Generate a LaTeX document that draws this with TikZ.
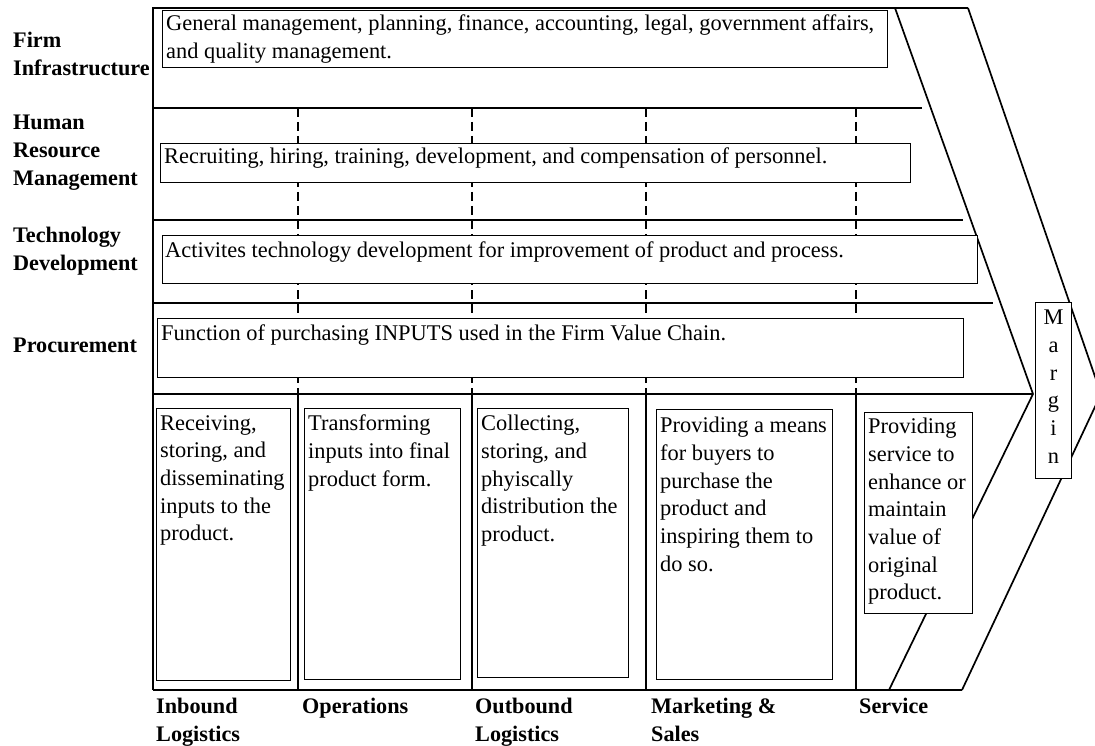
\documentclass[tikz,border=0pt]{standalone}
\usepackage{fontspec}
\setmainfont{Liberation Serif}
\begin{document}
\begin{tikzpicture}[x=1pt,y=-1pt,
  frame/.style={line width=2pt},
  diag/.style={line width=1.7pt},
  dashline/.style={line width=2pt, dash pattern=on 9pt off 5pt},
  sbox/.style={draw, line width=1pt, fill=white, inner sep=0pt, anchor=north west},
  txt/.style={inner sep=0pt, anchor=north west, align=left, font=\fontsize{22.4}{27.7}\selectfont},
  lbl/.style={inner sep=0pt, anchor=north west, align=left, font=\bfseries\fontsize{22.2}{27.7}\selectfont}]
\useasboundingbox (0,0) rectangle (1095,746);
% frame coordinates
\coordinate (tl) at (153,8);
\coordinate (tr1) at (895,8);
\coordinate (tr2) at (968,8);
\coordinate (tip) at (1033,394);
\coordinate (otip) at (1101,394);
\coordinate (bl) at (153,690);
\coordinate (bi) at (889,690);
\coordinate (bo) at (962,690);
\coordinate (h1a) at (153,108); \coordinate (h1b) at (922,108);
\coordinate (h2a) at (153,220); \coordinate (h2b) at (963,220);
\coordinate (h3a) at (153,303); \coordinate (h3b) at (993,303);
\coordinate (h4a) at (153,394);
% dashed / solid column separators
\foreach \cx [count=\i] in {298,472,646,856}{
  \coordinate (d\i a) at (\cx,108);
  \coordinate (d\i b) at (\cx,394);
  \coordinate (d\i c) at (\cx,690);
  \draw[dashline] (d\i a) -- (d\i b);
  \draw[frame] (d\i b) -- (d\i c);
}
\draw[frame] (bl) -- (tl) -- (tr2);
\draw[frame] (h1a) -- (h1b);
\draw[frame] (h2a) -- (h2b);
\draw[frame] (h3a) -- (h3b);
\draw[frame] (h4a) -- (tip);
\draw[frame] (bl) -- (bo);
\draw[diag] (tr1) -- (tip) -- (bi);
\draw[diag] (tr2) -- (otip) -- (bo);
% support boxes
\node[sbox, minimum width=725pt, minimum height=57pt] (fi) at (162,10) {};
\node[sbox, minimum width=750pt, minimum height=39pt] (hr) at (160,143) {};
\node[sbox, minimum width=815pt, minimum height=48pt] (td) at (162,235) {};
\node[sbox, minimum width=806pt, minimum height=59pt] (pr) at (157,318) {};
% primary boxes
\node[sbox, minimum width=134pt, minimum height=272pt] (ib) at (156,408) {};
\node[sbox, minimum width=156pt, minimum height=271pt] (op) at (304,408) {};
\node[sbox, minimum width=151pt, minimum height=269pt] (ob) at (477,408) {};
\node[sbox, minimum width=176pt, minimum height=270pt] (ms) at (656,409) {};
\node[sbox, minimum width=108pt, minimum height=201pt] (sv) at (864,412) {};
\node[sbox, minimum width=36pt, minimum height=176pt] (mg) at (1035,302) {};
% texts in boxes
\node[txt] (fit) at ([xshift=4pt,yshift=-5pt]fi.north west) {General management, planning, finance, accounting, legal, government affairs,\\and quality management.};
\node[txt] (hrt) at ([xshift=4pt,yshift=-5pt]hr.north west) {Recruiting, hiring, training, development, and compensation of personnel.};
\node[txt] (tdt) at ([xshift=3pt,yshift=-7pt]td.north west) {Activites technology development for improvement of product and process.};
\node[txt] (prt) at ([xshift=4pt,yshift=-7pt]pr.north west) {Function of purchasing INPUTS used in the Firm Value Chain.};
\node[txt] (ibt) at ([xshift=4pt,yshift=-7pt]ib.north west) {Receiving,\\storing, and\\disseminating\\inputs to the\\product.};
\node[txt] (opt) at ([xshift=4pt,yshift=-7pt]op.north west) {Transforming\\inputs into final\\product form.};
\node[txt] (obt) at ([xshift=4pt,yshift=-7pt]ob.north west) {Collecting,\\storing, and\\phyiscally\\distribution the\\product.};
\node[txt] (mst) at ([xshift=4pt,yshift=-8pt]ms.north west) {Providing a means\\for buyers to\\purchase the\\product and\\inspiring them to\\do so.};
\node[txt] (svt) at ([xshift=4pt,yshift=-6pt]sv.north west) {Providing\\service to\\enhance or\\maintain\\value of\\original\\product.};
\node[txt, anchor=north, align=center] (mgt) at ([yshift=-8pt]mg.north) {M\\a\\r\\g\\i\\n};
% left labels
\node[lbl] (lfi) at (13,32) {Firm\\Infrastructure};
\node[lbl] (lhr) at (13,115) {Human\\Resource\\Management};
\node[lbl] (ltd) at (13,227) {Technology\\Development};
\node[lbl] (lpr) at (13,338) {Procurement};
% bottom labels
\node[lbl] (bib) at (156,698) {Inbound\\Logistics};
\node[lbl] (bop) at (302,698) {Operations};
\node[lbl] (bob) at (475,698) {Outbound\\Logistics};
\node[lbl] (bms) at (651,698) {Marketing \&\\Sales};
\node[lbl] (bsv) at (859,698) {Service};
\end{tikzpicture}
\end{document}
